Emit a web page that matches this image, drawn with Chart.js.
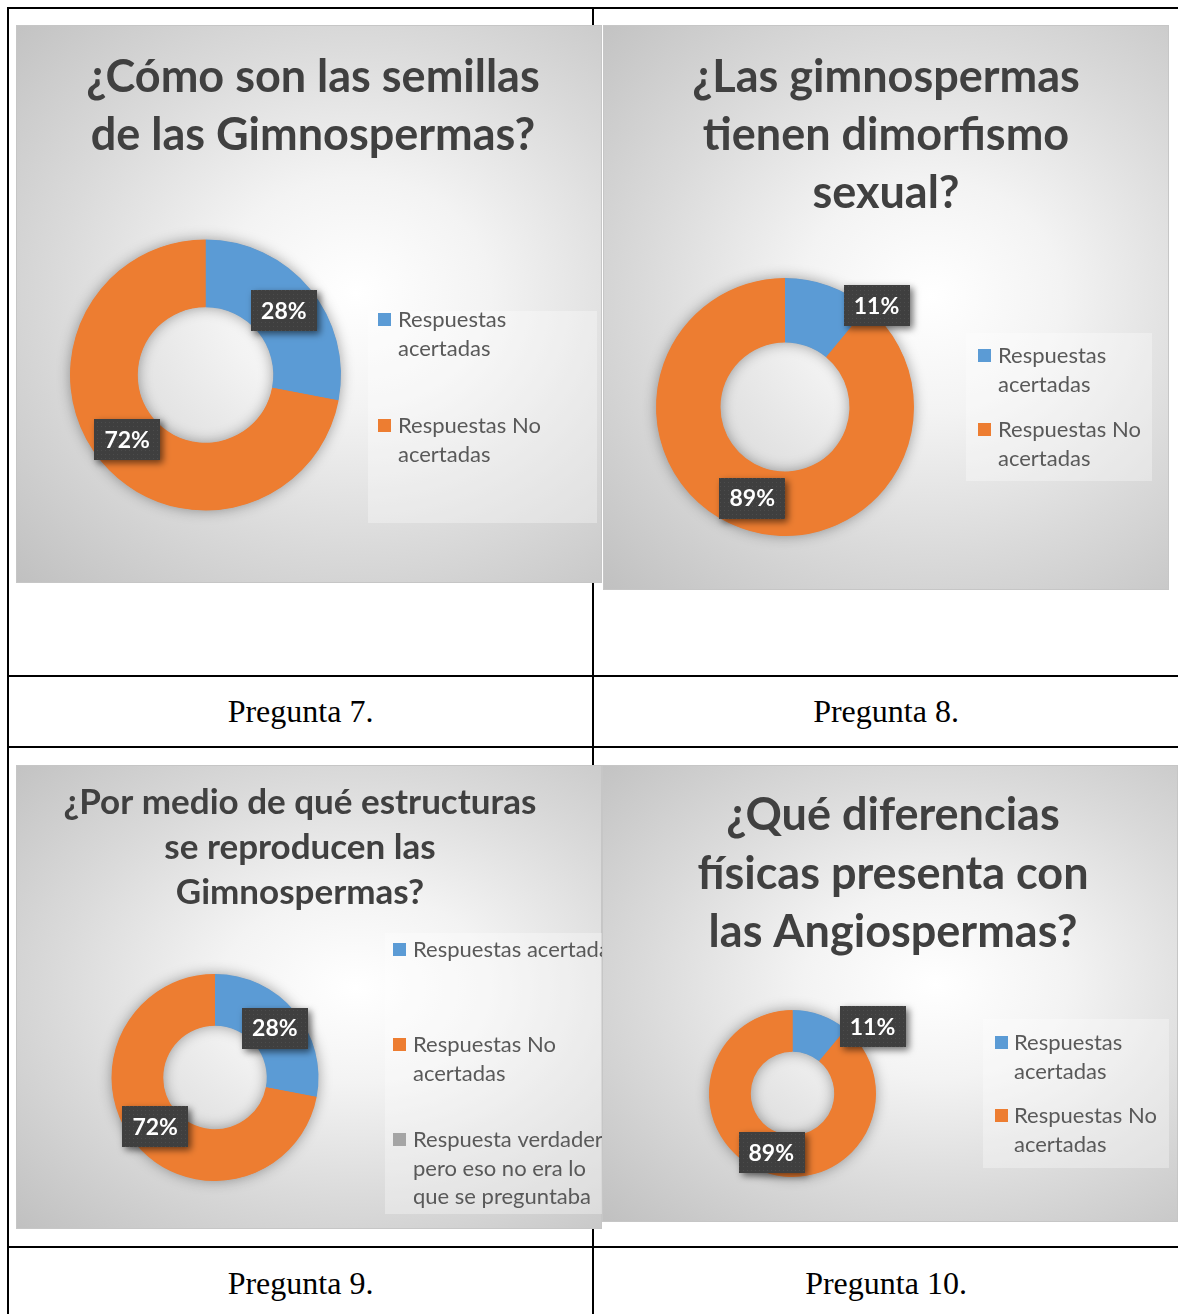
<!DOCTYPE html>
<html><head><meta charset="utf-8">
<script src="https://cdn.jsdelivr.net/npm/chart.js@4.4.1/dist/chart.umd.min.js"></script>
<style>
html,body{margin:0;padding:0;background:#fff;}
body{width:1178px;height:1314px;position:relative;overflow:hidden;}
.ln{position:absolute;background:#000;}
.panel{position:absolute;overflow:hidden;
  background:radial-gradient(farthest-corner at 58% 48%, #ffffff 0%, #f3f3f3 28%, #dadada 62%, #c0c0c0 100%);
  box-shadow: inset 0 0 0 1px #c6c6c6;}
.panel canvas{position:absolute;left:0;top:0;}
.cap{position:absolute;display:flex;align-items:center;justify-content:center;
  font-family:'Liberation Serif','Times New Roman',serif;font-size:32px;color:#000;}
</style></head><body>
<div class="ln" style="left:7px;top:7px;width:1171px;height:2px"></div>
<div class="ln" style="left:7px;top:7px;width:2px;height:1307px"></div>
<div class="ln" style="left:592px;top:7px;width:2px;height:1307px"></div>
<div class="ln" style="left:7px;top:675px;width:1171px;height:2px"></div>
<div class="ln" style="left:7px;top:746px;width:1171px;height:2px"></div>
<div class="ln" style="left:7px;top:1246px;width:1171px;height:2px"></div>

<div class="cap" id="cap0" style="left:9px;top:677px;width:583px;height:69px"></div>
<div class="cap" id="cap1" style="left:594px;top:677px;width:584px;height:69px"></div>
<div class="cap" id="cap2" style="left:9px;top:1248px;width:583px;height:70px"></div>
<div class="cap" id="cap3" style="left:594px;top:1248px;width:584px;height:70px"></div>

<div class="panel" id="pan0" style="left:16px;top:25px;width:586px;height:558px"><canvas id="c0" width="586" height="558"></canvas></div>
<div class="panel" id="pan1" style="left:603px;top:25px;width:566px;height:565px"><canvas id="c1" width="566" height="565"></canvas></div>
<div class="panel" id="pan2" style="left:16px;top:765px;width:586px;height:464px"><canvas id="c2" width="586" height="464"></canvas></div>
<div class="panel" id="pan3" style="left:602px;top:765px;width:576px;height:457px"><canvas id="c3" width="576" height="457"></canvas></div>

<script>
// ---------------- DATA ----------------
const seriesColors = ['#5B9BD5', '#ED7D31', '#A5A5A5'];

const title7 = ['¿Cómo son las semillas', 'de las Gimnospermas?'];
const labels7 = [['Respuestas', 'acertadas'], ['Respuestas No', 'acertadas']];
const values7 = [28, 72];

const title8 = ['¿Las gimnospermas', 'tienen dimorfismo', 'sexual?'];
const labels8 = [['Respuestas', 'acertadas'], ['Respuestas No', 'acertadas']];
const values8 = [11, 89];

const title9 = ['¿Por medio de qué estructuras', 'se reproducen las', 'Gimnospermas?'];
const labels9 = [['Respuestas acertadas'], ['Respuestas No', 'acertadas'], ['Respuesta verdadera', 'pero eso no era lo', 'que se preguntaba']];
const values9 = [28, 72, 0];

const title10 = ['¿Qué diferencias', 'físicas presenta con', 'las Angiospermas?'];
const labels10 = [['Respuestas', 'acertadas'], ['Respuestas No', 'acertadas']];
const values10 = [11, 89];

const captions = ['Pregunta 7.', 'Pregunta 8.', 'Pregunta 9.', 'Pregunta 10.'];

// ---------------- LAYOUT (positions / styles) ----------------
const panelLayouts = [
  {canvas:'c0', title:title7, labels:labels7, values:values7,
   titleSize:45, titleX:297, titleBase:[67,125],
   cx:189.5, cy:350, R:135.5,
   legendBox:[352,286,229,212], sqX:362, textX:382, itemBase:[302,408], lh:28.5,
   labelOffsets:[[0,0],[0,0]]},
  {canvas:'c1', title:title8, labels:labels8, values:values8,
   titleSize:45, titleX:283, titleBase:[67,125,183],
   cx:182, cy:382, R:129,
   legendBox:[363,308,186,148], sqX:375, textX:395, itemBase:[338,412], lh:29,
   labelOffsets:[[58.7,-10],[0,0]]},
  {canvas:'c2', title:title9, labels:labels9, values:values9,
   titleSize:35, titleX:284, titleBase:[49,94,139],
   cx:199, cy:312.5, R:103.5,
   legendBox:[369,168,230,281], sqX:377, textX:397, itemBase:[192,287,382], lh:28.5,
   labelOffsets:[[0,0],[0,0],[0,0]]},
  {canvas:'c3', title:title10, labels:labels10, values:values10,
   titleSize:45, titleX:291, titleBase:[65,124,182],
   cx:190.5, cy:328.5, R:83.5,
   legendBox:[381,254,186,149], sqX:393, textX:412, itemBase:[285,358], lh:29,
   labelOffsets:[[58.8,-8],[0,0]]}
];

captions.forEach((c,i)=>{ document.getElementById('cap'+i).textContent = c; });

const FONT = "Lato, 'Open Sans', 'DejaVu Sans', sans-serif";

// dotted texture for data label boxes
const patCanvas = document.createElement('canvas');
patCanvas.width = 4; patCanvas.height = 4;
(function(){
  const p = patCanvas.getContext('2d');
  p.fillStyle = '#3f3f3f'; p.fillRect(0,0,4,4);
  p.fillStyle = '#4c4c4c'; p.fillRect(1,1,1,1);
})();

const ringShadow = {
  id:'ringShadow',
  beforeDatasetsDraw(chart){
    const arc = chart.getDatasetMeta(0).data[0];
    if(!arc) return;
    const ctx = chart.ctx;
    ctx.save();
    ctx.shadowColor = 'rgba(0,0,0,0.38)';
    ctx.shadowBlur = 14;
    ctx.fillStyle = '#ED7D31';
    ctx.beginPath();
    ctx.arc(arc.x, arc.y, arc.outerRadius - 0.5, 0, Math.PI*2);
    ctx.arc(arc.x, arc.y, arc.innerRadius + 0.5, Math.PI*2, 0, true);
    ctx.closePath();
    ctx.fill();
    ctx.restore();
  }
};

const decorations = {
  id:'decorations',
  afterDraw(chart, args, opts){
    const L = opts.layout;
    const ctx = chart.ctx;
    ctx.save();
    // title
    ctx.fillStyle = '#404040';
    ctx.font = 'bold ' + L.titleSize + 'px ' + FONT;
    ctx.textAlign = 'center';
    ctx.textBaseline = 'alphabetic';
    L.title.forEach((t,i)=> ctx.fillText(t, L.titleX, L.titleBase[i]));
    // legend
    const b = L.legendBox;
    ctx.fillStyle = 'rgba(255,255,255,0.32)';
    ctx.fillRect(b[0], b[1], b[2], b[3]);
    ctx.font = '22px ' + FONT;
    ctx.textAlign = 'left';
    const ds = chart.data.datasets[0];
    chart.data.labels.forEach((lab, i)=>{
      const base = L.itemBase[i];
      ctx.fillStyle = ds.backgroundColor[i];
      ctx.fillRect(L.sqX, base - 14, 13, 13);
      ctx.fillStyle = '#595959';
      lab.forEach((line, k)=> ctx.fillText(line, L.textX, base + k*L.lh));
    });
    // data labels
    const meta = chart.getDatasetMeta(0);
    ctx.font = 'bold 23px ' + FONT;
    ctx.textAlign = 'center';
    ctx.textBaseline = 'middle';
    const pattern = ctx.createPattern(patCanvas, 'repeat');
    meta.data.forEach((arc, i)=>{
      const v = ds.data[i];
      if(!v) return;
      const p = arc.tooltipPosition();
      const off = L.labelOffsets[i] || [0,0];
      const x = p.x + off[0], y = p.y + off[1];
      const txt = v + '%';
      const w = ctx.measureText(txt).width + 20, h = 41;
      ctx.save();
      ctx.shadowColor = 'rgba(0,0,0,0.55)';
      ctx.shadowBlur = 7;
      ctx.shadowOffsetX = 3;
      ctx.shadowOffsetY = 3;
      ctx.fillStyle = pattern;
      ctx.fillRect(Math.round(x - w/2), Math.round(y - h/2), Math.round(w), h);
      ctx.restore();
      ctx.fillStyle = '#ffffff';
      ctx.fillText(txt, x, y + 1);
    });
    ctx.restore();
  }
};

panelLayouts.forEach(L=>{
  const cv = document.getElementById(L.canvas);
  const W = cv.width, H = cv.height;
  new Chart(cv, {
    type:'doughnut',
    data:{ labels:L.labels,
      datasets:[{ data:L.values, backgroundColor:seriesColors.slice(0, L.values.length),
        borderWidth:0, hoverOffset:0, radius:L.R, cutout:'50%' }]},
    options:{
      responsive:false, animation:false, events:[],
      cutout:'50%',
      layout:{ padding:{ left:L.cx - L.R, right:W - L.cx - L.R, top:L.cy - L.R, bottom:H - L.cy - L.R } },
      plugins:{ legend:{display:false}, tooltip:{enabled:false}, title:{display:false},
        decorations:{ layout:L } }
    },
    plugins:[ringShadow, decorations]
  });
});
</script>
</body></html>
